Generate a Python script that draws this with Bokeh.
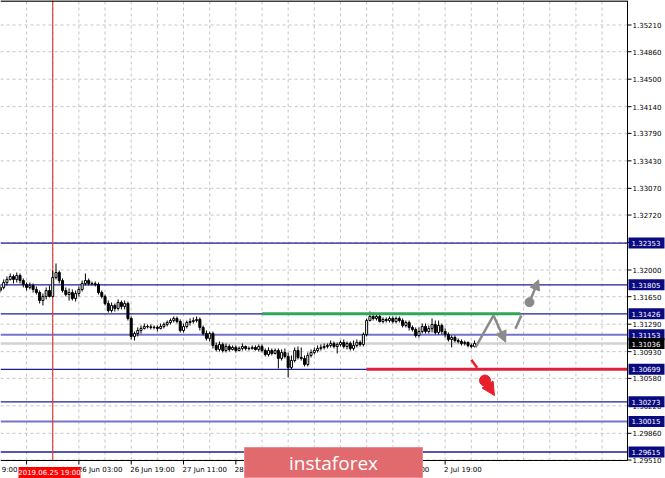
from bokeh.plotting import figure
from bokeh.models import Range1d, Arrow, NormalHead, ColumnDataSource
from bokeh.core.properties import value
from bokeh.embed import file_html
from bokeh.resources import INLINE

# ---------------- data (GBP/USD H1, bar index 0 = 26 Jun 19:00) ----------------
first_bar = -40
first_open = 1.31731
closes = [
    1.31771, 1.31836, 1.31876, 1.31915, 1.31876, 1.31928, 1.31862, 1.31810, 1.31771, 1.31797,
    1.31745, 1.31705, 1.31600, 1.31653, 1.31731, 1.31653, 1.31902, 1.31967, 1.31862, 1.31731,
    1.31679, 1.31705, 1.31627, 1.31692, 1.31745, 1.31823, 1.31862, 1.31823, 1.31820, 1.31810,
    1.31705, 1.31653, 1.31561, 1.31469, 1.31535, 1.31496, 1.31574, 1.31522, 1.31561, 1.31365,
    1.31129, 1.31168, 1.31207, 1.31234, 1.31260, 1.31255, 1.31247, 1.31250, 1.31234, 1.31260,
    1.31286, 1.31312, 1.31338, 1.31365, 1.31325, 1.31207, 1.31260, 1.31312, 1.31325, 1.31338,
    1.31352, 1.31247, 1.31168, 1.31103, 1.31168, 1.31011, 1.30959, 1.31024, 1.30945, 1.30998,
    1.30959, 1.30985, 1.30945, 1.30972, 1.30998, 1.30972, 1.30968, 1.30985, 1.30959, 1.30998,
    1.30945, 1.30893, 1.30945, 1.30906, 1.30945, 1.30841, 1.30919, 1.30867, 1.30723, 1.30814,
    1.30945, 1.30854, 1.30841, 1.30762, 1.30880, 1.30919, 1.30945, 1.30972, 1.30985, 1.30998,
    1.31011, 1.31037, 1.30998, 1.31024, 1.31050, 1.30998, 1.31037, 1.30972, 1.31011, 1.31050,
    1.31024, 1.31155, 1.31338, 1.31391, 1.31365, 1.31391, 1.31325, 1.31352, 1.31338, 1.31365,
    1.31325, 1.31365, 1.31338, 1.31273, 1.31312, 1.31247, 1.31221, 1.31142, 1.31194, 1.31260,
    1.31194, 1.31234, 1.31286, 1.31181, 1.31273, 1.31194, 1.31155, 1.31090, 1.31116, 1.31076,
    1.31063, 1.31037, 1.31050, 1.31011, 1.30998, 1.31036,
]
highs = [
    1.31810, 1.31876, 1.31915, 1.31954, 1.31941, 1.31967, 1.31954, 1.31889, 1.31836, 1.31836,
    1.31823, 1.31784, 1.31731, 1.31692, 1.31771, 1.31797, 1.31993, 1.32085, 1.31993, 1.31889,
    1.31771, 1.31758, 1.31745, 1.31731, 1.31784, 1.31862, 1.31954, 1.31889, 1.31849, 1.31849,
    1.31836, 1.31731, 1.31679, 1.31600, 1.31574, 1.31561, 1.31614, 1.31600, 1.31600, 1.31587,
    1.31391, 1.31194, 1.31247, 1.31273, 1.31299, 1.31286, 1.31286, 1.31273, 1.31273, 1.31299,
    1.31312, 1.31338, 1.31365, 1.31391, 1.31391, 1.31352, 1.31299, 1.31338, 1.31365, 1.31378,
    1.31391, 1.31378, 1.31273, 1.31207, 1.31194, 1.31194, 1.31050, 1.31063, 1.31050, 1.31037,
    1.31024, 1.31011, 1.31011, 1.30998, 1.31037, 1.31011, 1.30998, 1.31011, 1.31011, 1.31024,
    1.31024, 1.30972, 1.30985, 1.30972, 1.30972, 1.30972, 1.30959, 1.30972, 1.30919, 1.30880,
    1.30985, 1.30998, 1.30985, 1.30880, 1.30919, 1.30959, 1.30985, 1.31011, 1.31024, 1.31037,
    1.31037, 1.31076, 1.31063, 1.31050, 1.31076, 1.31090, 1.31063, 1.31063, 1.31076, 1.31090,
    1.31076, 1.31181, 1.31365, 1.31456, 1.31443, 1.31430, 1.31417, 1.31378, 1.31378, 1.31391,
    1.31391, 1.31391, 1.31391, 1.31365, 1.31338, 1.31338, 1.31273, 1.31247, 1.31247, 1.31299,
    1.31299, 1.31273, 1.31365, 1.31338, 1.31338, 1.31299, 1.31234, 1.31181, 1.31142, 1.31142,
    1.31103, 1.31090, 1.31076, 1.31063, 1.31037, 1.31076,
]
lows = [
    1.31705, 1.31745, 1.31797, 1.31862, 1.31823, 1.31836, 1.31823, 1.31771, 1.31731, 1.31745,
    1.31705, 1.31679, 1.31561, 1.31535, 1.31614, 1.31640, 1.31640, 1.31876, 1.31823, 1.31705,
    1.31653, 1.31600, 1.31600, 1.31587, 1.31653, 1.31718, 1.31797, 1.31797, 1.31797, 1.31784,
    1.31679, 1.31627, 1.31535, 1.31443, 1.31443, 1.31456, 1.31469, 1.31483, 1.31483, 1.31338,
    1.31090, 1.31076, 1.31129, 1.31168, 1.31221, 1.31234, 1.31221, 1.31221, 1.31194, 1.31221,
    1.31234, 1.31260, 1.31286, 1.31312, 1.31299, 1.31181, 1.31181, 1.31234, 1.31273, 1.31299,
    1.31312, 1.31207, 1.31142, 1.31076, 1.31063, 1.30972, 1.30932, 1.30932, 1.30919, 1.30919,
    1.30932, 1.30945, 1.30919, 1.30932, 1.30945, 1.30945, 1.30945, 1.30959, 1.30945, 1.30932,
    1.30919, 1.30867, 1.30867, 1.30880, 1.30893, 1.30710, 1.30814, 1.30841, 1.30592, 1.30697,
    1.30788, 1.30828, 1.30814, 1.30736, 1.30736, 1.30854, 1.30893, 1.30919, 1.30945, 1.30959,
    1.30972, 1.30985, 1.30972, 1.30906, 1.30998, 1.30972, 1.30959, 1.30945, 1.30945, 1.30985,
    1.30998, 1.30998, 1.31129, 1.31325, 1.31338, 1.31338, 1.31312, 1.31299, 1.31312, 1.31312,
    1.31299, 1.31299, 1.31312, 1.31247, 1.31247, 1.31207, 1.31194, 1.31116, 1.31116, 1.31168,
    1.31168, 1.31168, 1.31181, 1.31155, 1.31155, 1.31155, 1.31116, 1.31063, 1.30985, 1.31050,
    1.31037, 1.31011, 1.31011, 1.30985, 1.30972, 1.30985,
]

price_ticks = [1.35210, 1.34860, 1.34500, 1.34140, 1.33790, 1.33430, 1.33070, 1.32720,
               1.32360, 1.32000, 1.31650, 1.31290, 1.30930, 1.30580, 1.30220, 1.29860, 1.29510]
# first tick sits left of the view; only the tail of its label ("9:00") is visible
time_ticks = [-48, -32, -16, 0, 16, 32, 48, 64, 80, 96]
time_labels = ["9:00", "25 Jun 11:00", "26 Jun 03:00", "26 Jun 19:00", "27 Jun 11:00",
               "28 Jun 03:00", "28 Jun 19:00", "1 Jul 11:00", "2 Jul 03:00", "2 Jul 19:00"]
grid_bars = [-32, -24, -16, -8, 0, 8, 16, 24, 32, 40, 48, 56, 64, 72, 80, 88, 96, 104,
             112, 120, 128, 136, 144]

level_prices = [1.32353, 1.31805, 1.31426, 1.31153, 1.30699, 1.30273, 1.30015, 1.29615]
level_labels = ["1.32353", "1.31805", "1.31426", "1.31153", "1.30699", "1.30273", "1.30015", "1.29615"]
light_levels = [1.31153, 1.30015]
current_price = 1.31036
current_label = "1.31036"
marker_bar = -24
marker_label = "2019.06.25 19:00"

buy_level = 1.31426
buy_from, buy_to = 40, 119
sell_level = 1.30699
sell_from = 72

gray_path_bar = [105.3, 110.8]
gray_path_price = [1.30985, 1.31404]
gray_arrow_bar = [110.8, 114.5]
gray_arrow_price = [1.31404, 1.31054]
gray_dash_bar = [117.5, 119.3]
gray_dash_price = [1.31229, 1.31404]
gray_up_bar = [121.8, 124.6]
gray_up_price = [1.31578, 1.31871]
red_dash_bar = [104.0, 105.8]
red_dash_price = [1.30823, 1.30718]
red_drop_bar = [108.2, 111.1]
red_drop_price = [1.30552, 1.30355]

# ---------------- layout helpers (canvas px -> chart scale) ----------------
W, H = 665, 478
BAR_PX = 3.27            # pixels per hourly bar
BAR0_PX = 130.7          # pixel column of bar 0
PX_PER_UNIT = 7632.0     # pixels per 1.0 of price
REF_PRICE, REF_PX = 1.35210, 24.5

X0 = -BAR0_PX / BAR_PX
X1 = X0 + W / BAR_PX
Y1 = REF_PRICE + REF_PX / PX_PER_UNIT
Y0 = Y1 - H / PX_PER_UNIT


def kx(px):
    return X0 + px / BAR_PX


def py(px):
    return Y1 - px / PX_PER_UNIT


K_EDGE = kx(627)      # right border of the price area
P_EDGE = py(460)      # bottom border of the price area
FONT = value("DejaVu Sans")

p = figure(width=W, height=H, output_backend="svg", toolbar_location=None,
           x_range=Range1d(X0, X1), y_range=Range1d(Y0, Y1),
           x_axis_location=None, y_axis_location=None, min_border=0,
           background_fill_color="white", border_fill_color="white")
p.outline_line_color = None
p.grid.visible = False

# dashed grid inside the price area
p.segment(x0=grid_bars, x1=grid_bars, y0=[P_EDGE] * len(grid_bars), y1=[Y1] * len(grid_bars),
          line_color="#c4c4c4", line_dash="3 3", line_width=1)
p.segment(x0=[X0] * len(price_ticks), x1=[K_EDGE] * len(price_ticks), y0=price_ticks,
          y1=price_ticks, line_color="#c4c4c4", line_dash="3 3", line_width=1)

# horizontal levels
p.line([X0, K_EDGE], [current_price, current_price], line_color="#d2d2d2", line_width=2.5)
for lv in level_prices:
    light = lv in light_levels
    p.line([X0, K_EDGE], [lv, lv], line_color="#7474cc" if light else "#1e1e96",
           line_width=2 if light else 1.3)
p.line([marker_bar, marker_bar], [P_EDGE, Y1], line_color="#e03a3a", line_width=1.2)

# candles
bars = list(range(first_bar, first_bar + len(closes)))
opens = [first_open] + closes[:-1]
src = ColumnDataSource(dict(
    x=bars, o=opens, c=closes, h=highs, l=lows,
    top=[max(a, b) for a, b in zip(opens, closes)],
    bot=[min(a, b) for a, b in zip(opens, closes)],
    fill=["white" if c >= o else "black" for o, c in zip(opens, closes)],
))
p.segment(x0="x", y0="h", x1="x", y1="l", source=src, line_color="black", line_width=1)
p.vbar(x="x", top="top", bottom="bot", width=0.62, source=src, fill_color="fill",
       line_color="black", line_width=1)

# forecast lines
p.line([buy_from, buy_to], [buy_level, buy_level], line_color="#2ea858", line_width=3)
p.line([sell_from, K_EDGE], [sell_level, sell_level], line_color="#e0203c", line_width=3)

gray = "#8a8a8a"
p.line(gray_path_bar, gray_path_price, line_color=gray, line_width=2.5)
p.add_layout(Arrow(x_start=gray_arrow_bar[0], y_start=gray_arrow_price[0],
                   x_end=gray_arrow_bar[1], y_end=gray_arrow_price[1],
                   line_color=gray, line_width=2.5,
                   end=NormalHead(size=11, fill_color=gray, line_color=gray)))
p.line(gray_dash_bar, gray_dash_price, line_color=gray, line_width=2.5)
p.scatter([gray_up_bar[0]], [gray_up_price[0]], size=9, marker="circle",
          fill_color=gray, line_color=gray)
p.add_layout(Arrow(x_start=gray_up_bar[0], y_start=gray_up_price[0],
                   x_end=gray_up_bar[1], y_end=gray_up_price[1],
                   line_color=gray, line_width=2.5,
                   end=NormalHead(size=10, fill_color=gray, line_color=gray)))
red = "#e8202c"
p.line(red_dash_bar, red_dash_price, line_color=red, line_width=2.5)
p.scatter([red_drop_bar[0]], [red_drop_price[0]], size=11, marker="circle",
          fill_color=red, line_color=red)
p.add_layout(Arrow(x_start=red_drop_bar[0], y_start=red_drop_price[0],
                   x_end=red_drop_bar[1], y_end=red_drop_price[1],
                   line_color=red, line_width=1,
                   end=NormalHead(size=13, fill_color=red, line_color=red)))

# chart border (top, right, bottom)
p.line([X0, K_EDGE], [py(0.5), py(0.5)], line_color="black", line_width=1.5)
p.line([K_EDGE, K_EDGE], [P_EDGE, Y1], line_color="black", line_width=1)
p.line([X0, K_EDGE], [P_EDGE, P_EDGE], line_color="black", line_width=1)

# price scale
n = len(price_ticks)
p.segment(x0=[K_EDGE] * n, x1=[kx(631)] * n, y0=price_ticks, y1=price_ticks,
          line_color="black", line_width=1)
p.text(x=[kx(632)] * n, y=price_ticks, text=[f"{v:.5f}" for v in price_ticks],
       text_font=FONT, text_font_size="7px", text_color="black",
       text_align="left", text_baseline="middle")

# time scale
m = len(time_ticks)
p.segment(x0=time_ticks, x1=time_ticks, y0=[P_EDGE] * m, y1=[py(464)] * m,
          line_color="black", line_width=1)
p.text(x=[kx(17)], y=[py(469)], text=time_labels[:1],
       text_font=FONT, text_font_size="7px", text_color="black",
       text_align="right", text_baseline="middle")
p.text(x=time_ticks[1:], y=[py(469)] * (m - 1), text=time_labels[1:], x_offset=-1,
       text_font=FONT, text_font_size="7px", text_color="black",
       text_align="left", text_baseline="middle")

# price boxes on the scale
k = len(level_prices)
p.rect(x=[kx(646)] * k, y=level_prices, width=36, height=11, width_units="screen",
       height_units="screen", fill_color="#0a0a80", line_color=None)
p.rect(x=[kx(646)], y=[current_price], width=36, height=11, width_units="screen",
       height_units="screen", fill_color="black", line_color=None)
p.text(x=[kx(631)] * (k + 1), y=level_prices + [current_price],
       text=level_labels + [current_label], text_font=FONT, text_font_size="7px",
       text_color="white", text_align="left", text_baseline="middle")

# crosshair time box
p.rect(x=[kx(49)], y=[py(472)], width=62, height=11, width_units="screen",
       height_units="screen", fill_color="#ff0000", line_color=None)
p.text(x=[kx(49)], y=[py(472)], text=[marker_label], text_font=FONT, text_font_size="7px",
       text_color="white", text_align="center", text_baseline="middle")

# watermark
p.rect(x=[kx(333)], y=[py(462)], width=178, height=30, width_units="screen",
       height_units="screen", fill_color="#e06a6e", line_color="#e88a8e", line_width=1)
p.text(x=[kx(333)], y=[py(462)], text=["instaforex"], text_font=value("Open Sans"),
       text_font_size="19px", text_color="white", text_align="center",
       text_baseline="middle")

open("out.html", "w").write(file_html(p, INLINE))
